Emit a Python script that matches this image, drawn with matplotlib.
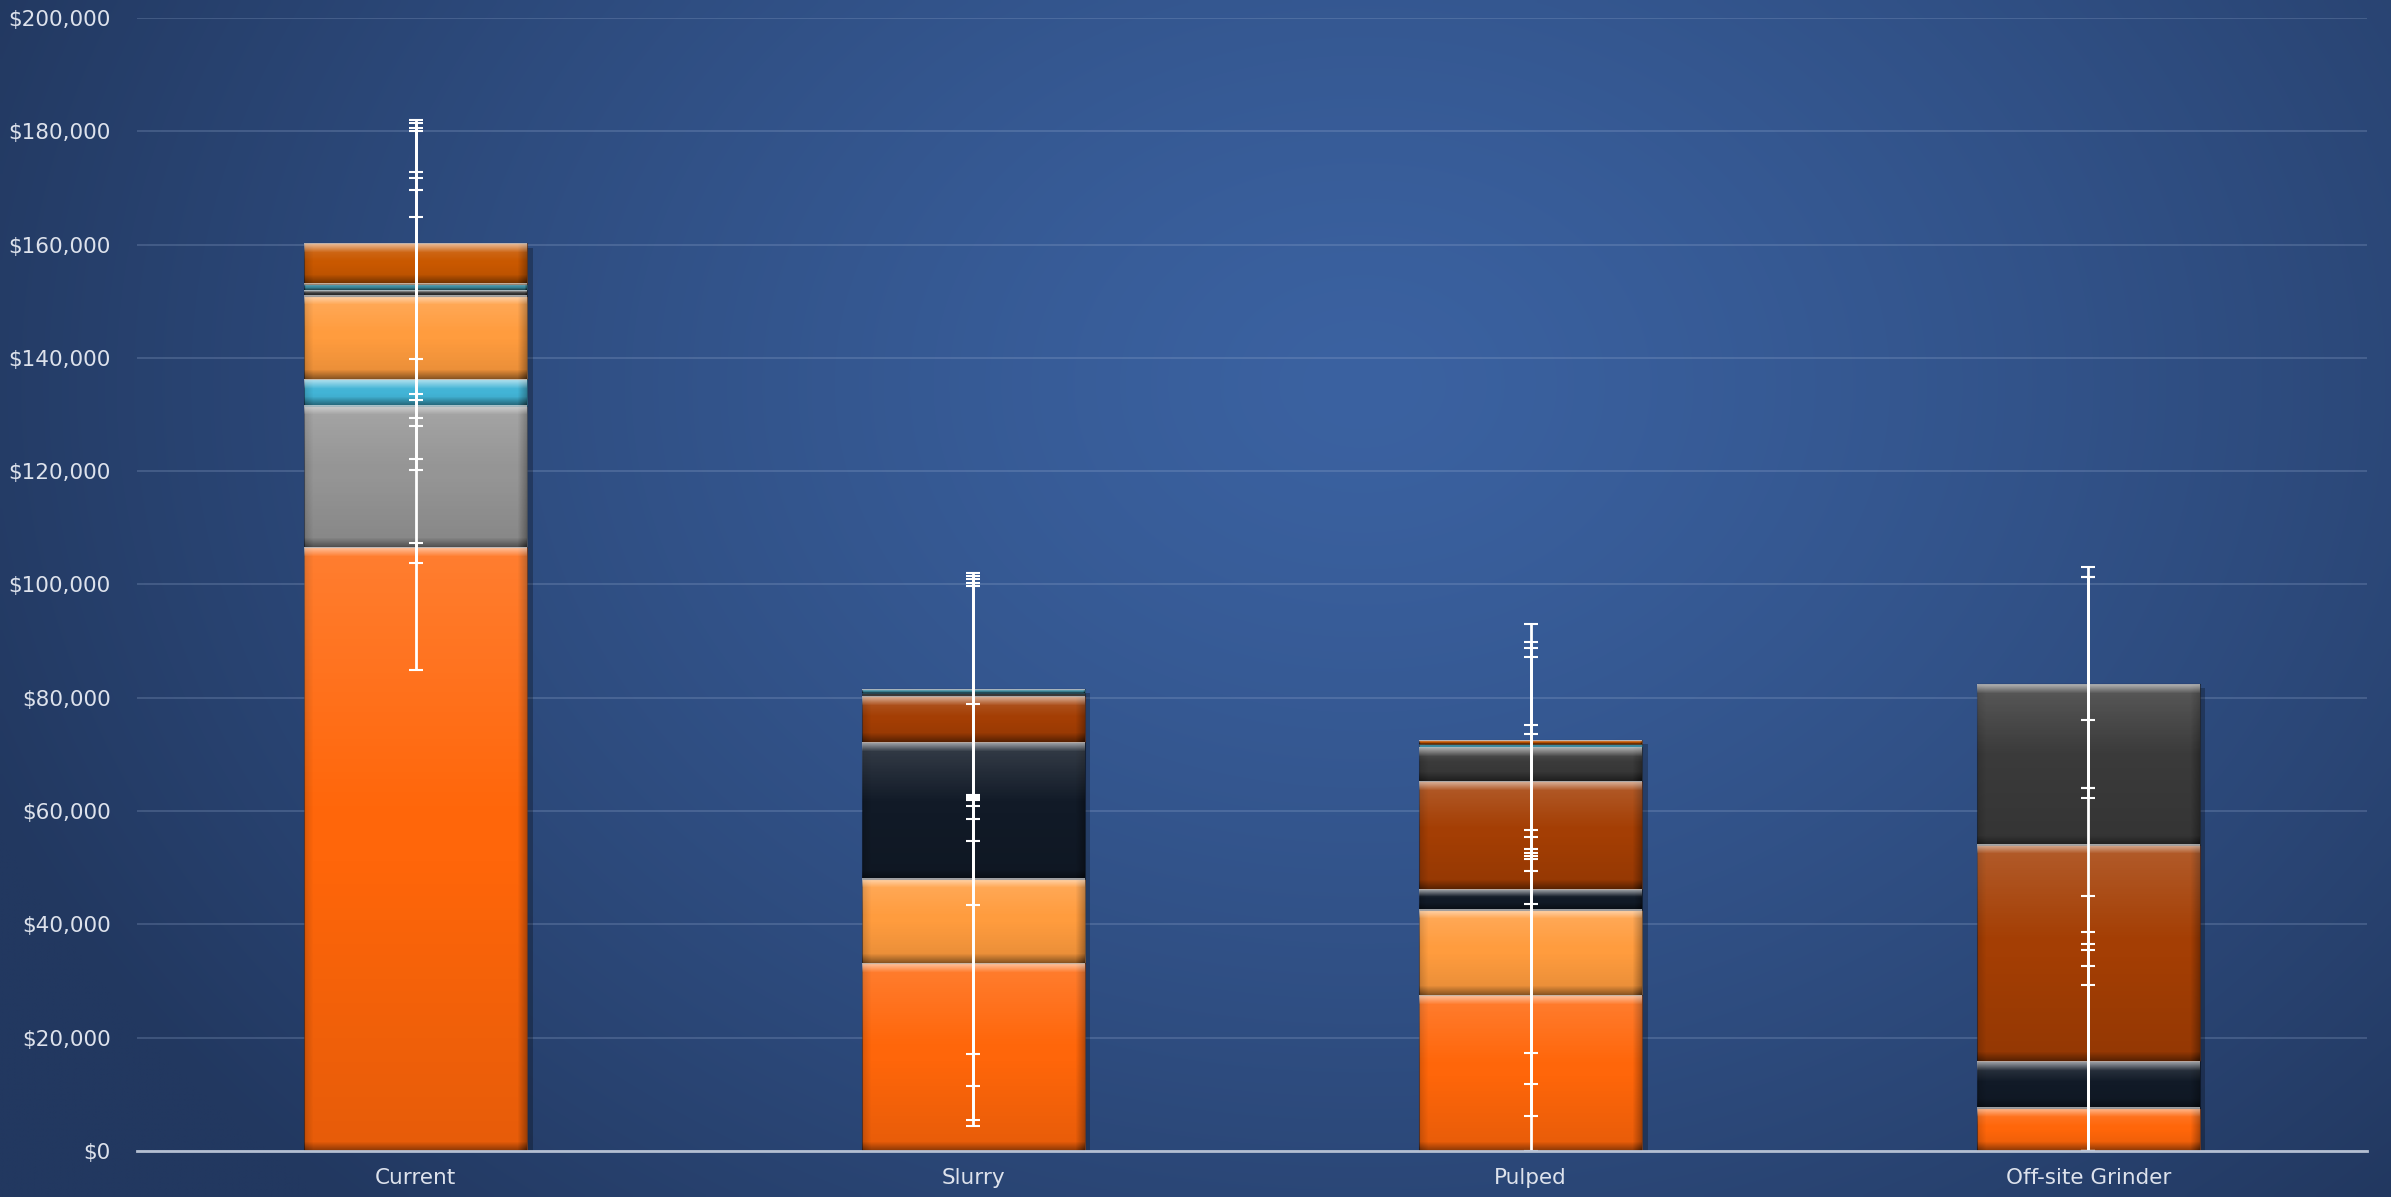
import numpy as np
import matplotlib
matplotlib.use("Agg")
import matplotlib.pyplot as plt
import matplotlib.patheffects as pe
from matplotlib.ticker import FuncFormatter

categories = ["Current", "Slurry", "Pulped", "Off-site Grinder"]

# stacked cost components ($), bottom to top
orange    = [106600, 33100, 27500, 7600]
gray      = [24900, 0, 0, 0]
cyan      = [4700, 0, 0, 0]
lt_orange = [14800, 15000, 15100, 0]
navy      = [0, 24100, 3700, 8200]
brown     = [0, 8100, 19000, 38300]
dk_gray   = [900, 500, 6000, 28400]
teal      = [1100, 700, 600, 0]
dk_orange = [7200, 0, 700, 0]

# error bar bounds ($) for each component, drawn at its stacked top
orange_lo    = [103780, 4340, 0, 0]
orange_hi    = [107290, 61910, 55410, 29270]
gray_lo      = [84890, 5490, 6160, 0]
gray_hi      = [182020, 60950, 56590, 35430]
cyan_lo      = [120300, 11510, 11850, 0]
cyan_hi      = [164960, 54740, 49360, 36520]
lt_orange_lo = [122130, 17180, 17320, 0]
lt_orange_hi = [180670, 78920, 73560, 38610]
navy_lo      = [128060, 43390, 43670, 0]
navy_hi      = [180000, 102080, 75130, 45010]
brown_lo     = [129340, 58660, 51610, 32660]
brown_hi     = [172850, 101520, 87180, 76080]
dk_gray_lo   = [132580, 62650, 52130, 62240]
dk_gray_hi   = [171840, 100940, 88750, 103050]
teal_lo      = [133590, 62300, 52620, 64130]
teal_hi      = [169610, 100220, 89830, 101290]
dk_orange_lo = [139870, 62900, 53260, 64130]
dk_orange_hi = [181480, 99650, 92970, 101290]

series = [
    (orange, orange_lo, orange_hi, "#FF660A"),
    (gray, gray_lo, gray_hi, "#959595"),
    (cyan, cyan_lo, cyan_hi, "#42B4D6"),
    (lt_orange, lt_orange_lo, lt_orange_hi, "#FF9C3E"),
    (navy, navy_lo, navy_hi, "#111A27"),
    (brown, brown_lo, brown_hi, "#A43E04"),
    (dk_gray, dk_gray_lo, dk_gray_hi, "#3A3A3A"),
    (teal, teal_lo, teal_hi, "#3F8FA3"),
    (dk_orange, dk_orange_lo, dk_orange_hi, "#C95800"),
]

W, H, DPI = 2391, 1197, 100
fig = plt.figure(figsize=(W / DPI, H / DPI), dpi=DPI)

# radial blue background
bg = fig.add_axes([0, 0, 1, 1], zorder=-10)
gx, gy = np.meshgrid(np.linspace(0, 1, 480), np.linspace(0, 1, 240))
r = np.sqrt(((gx - 0.57) / 0.62) ** 2 + ((gy - 0.68) / 0.95) ** 2)
r = np.clip(r, 0, 1) ** 1.3
c_in = np.array([0x3B, 0x62, 0xA1]) / 255
c_out = np.array([0x22, 0x38, 0x60]) / 255
img = c_in[None, None, :] + (c_out - c_in)[None, None, :] * r[..., None]
bg.imshow(img, extent=(0, 1, 0, 1), origin="lower", aspect="auto", interpolation="bilinear")
bg.axis("off")

ax = fig.add_axes([137 / W, 1 - 1151 / H, (2367 - 137) / W, (1151 - 18) / H])
ax.set_facecolor("none")
x = np.arange(len(categories))
width = 0.4

totals = np.sum([s[0] for s in series], axis=0)
ax.bar(x, totals, width, color="black", zorder=1,
       path_effects=[pe.SimplePatchShadow(offset=(4, -3), shadow_rgbFace="black", alpha=0.25)])

bottom = np.zeros(len(categories))
rects = []
err_sets = []
for vals, lo, hi, col in series:
    vals = np.array(vals, dtype=float)
    bars = ax.bar(x, vals, width, bottom=bottom, color=col, zorder=2,
                  edgecolor=(0, 0, 0, 0.25), linewidth=0.8)
    rects.extend(bars.patches)
    top = bottom + vals
    err_sets.append((top, np.array(lo, float), np.array(hi, float)))
    bottom = top

ax.set_xlim(-0.5, len(categories) - 0.5)
ax.set_ylim(0, 200000)


def bevel(rect):
    x0, y0 = rect.get_x(), rect.get_y()
    w, h = rect.get_width(), rect.get_height()
    if h <= 0:
        return
    (px0, py0), (px1, py1) = ax.transData.transform([(x0, y0), (x0 + w, y0 + h)])
    wp, hp = int(round(px1 - px0)), int(round(py1 - py0))
    if hp < 4:
        return
    rows = np.arange(hp)[:, None] * np.ones((1, wp))
    cols = np.ones((hp, 1)) * np.arange(wp)[None, :]
    b = min(9.0, hp / 3.0)
    d_top, d_bot = rows, hp - 1 - rows
    d_l, d_r = cols, wp - 1 - cols
    t = rows / max(hp - 1, 1)
    white = 0.45 * np.clip(1 - d_top / b, 0, 1) + 0.16 * np.clip(1 - t / 0.45, 0, 1)
    black = (0.35 * np.clip(1 - d_bot / b, 0, 1) + 0.15 * np.clip(1 - d_l / b, 0, 1)
             + 0.28 * np.clip(1 - d_r / b, 0, 1) + 0.1 * np.clip((t - 0.5) / 0.5, 0, 1))
    wimg = np.ones((hp, wp, 4))
    wimg[..., 3] = np.clip(white, 0, 1)
    kimg = np.zeros((hp, wp, 4))
    kimg[..., 3] = np.clip(black, 0, 1)
    ext = (x0, x0 + w, y0, y0 + h)
    ax.imshow(kimg, extent=ext, origin="upper", aspect="auto", zorder=2.1, interpolation="bilinear")
    ax.imshow(wimg, extent=ext, origin="upper", aspect="auto", zorder=2.2, interpolation="bilinear")


for rc in rects:
    bevel(rc)

for top, lo, hi in err_sets:
    ax.errorbar(x, top, yerr=[top - lo, hi - top], fmt="none", ecolor="white",
                elinewidth=2.0, capsize=5, capthick=1.5, zorder=5)

ax.set_xlim(-0.5, len(categories) - 0.5)
ax.set_ylim(0, 200000)
ax.set_yticks(np.arange(0, 200001, 20000))
ax.yaxis.set_major_formatter(FuncFormatter(lambda v, p: f"${v:,.0f}"))
ax.set_xticks(x)
ax.set_xticklabels(categories)
ax.grid(axis="y", color="#9fb3d6", alpha=0.28, linewidth=1.2, zorder=0)
ax.set_axisbelow(True)
for s in ["top", "right", "left"]:
    ax.spines[s].set_visible(False)
ax.spines["bottom"].set_color("#b4bfd2")
ax.spines["bottom"].set_linewidth(2)
ax.spines["bottom"].set_zorder(6)
ax.tick_params(axis="y", length=0, pad=19, labelsize=15.5, labelcolor="#dde2ec")
ax.tick_params(axis="x", length=0, pad=12, labelsize=15.5, labelcolor="#dde2ec")

fig.savefig("out.png", dpi=DPI)
